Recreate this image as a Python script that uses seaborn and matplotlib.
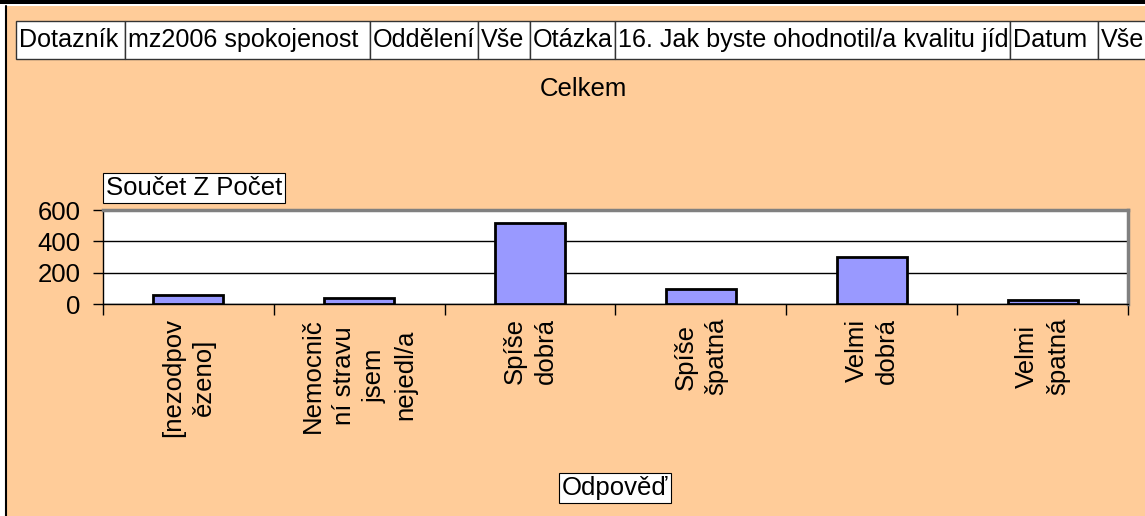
import matplotlib
matplotlib.use('Agg')
import matplotlib.pyplot as plt
import seaborn as sns
import pandas as pd
from matplotlib.patches import Rectangle
from matplotlib.lines import Line2D

answers = ['[nezodpov\nězeno]', 'Nemocnič\nní stravu\njsem\nnejedl/a', 'Spíše\ndobrá',
           'Spíše\nšpatná', 'Velmi\ndobrá', 'Velmi\nšpatná']
counts = [57, 38, 515, 97, 300, 25]
yticks = [0, 200, 400, 600]
header_labels = ['Dotazník', 'mz2006 spokojenost', 'Oddělení', 'Vše', 'Otázka',
                 '16. Jak byste ohodnotil/a kvalitu jíd', 'Datum', 'Vše']

# layout in pixels
W, H = 1145, 516
header_edges = [16, 125, 370, 478, 530, 615, 1010, 1098, 1150]

sns.set_theme(style='white')
plt.rcParams['font.family'] = ['Liberation Sans', 'DejaVu Sans']
plt.rcParams['text.color'] = 'black'
plt.rcParams['xtick.color'] = 'black'
plt.rcParams['ytick.color'] = 'black'
plt.rcParams['xtick.labelcolor'] = 'black'
plt.rcParams['ytick.labelcolor'] = 'black'

fig = plt.figure(figsize=(W / 100, H / 100), dpi=100, facecolor='white')


def fx(px):
    return px / W


def fy(py):
    return 1 - py / H


# peach chart area with black frame
fig.patches.append(Rectangle((fx(6), 0), 1 - fx(6), fy(6), transform=fig.transFigure,
                             facecolor='#FFCC99', edgecolor='none', zorder=-10))
fig.patches.append(Rectangle((0, fy(4)), 1, 4 / H, transform=fig.transFigure,
                             facecolor='black', edgecolor='none'))
fig.add_artist(Line2D([fx(6), fx(6)], [0, fy(6)], color='black', lw=1.5))

# header row of page fields
for i, lab in enumerate(header_labels):
    x0, x1 = header_edges[i], header_edges[i + 1]
    r = Rectangle((fx(x0), fy(59)), fx(x1) - fx(x0), (59 - 21) / H, transform=fig.transFigure,
                  facecolor='white', edgecolor='#333333', lw=1)
    fig.patches.append(r)
    fig.text(fx(x0 + 3), fy(40), lab, ha='left', va='center', fontsize=18.1, color='black')

fig.text(fx(583), fy(89), 'Celkem', ha='center', va='center', fontsize=18.5)

ax = fig.add_axes([fx(103), fy(304), fx(1128) - fx(103), (304 - 210) / H])
ax.set_facecolor('white')

df = pd.DataFrame({'Odpověď': answers, 'Počet': counts})
sns.barplot(data=df, x='Odpověď', y='Počet', color='#9999FF', saturation=1, width=0.41,
            edgecolor='black', linewidth=2, ax=ax, zorder=3)

ax.set_xlim(-0.5, 5.5)
ax.set_ylim(0, 600)
ax.set_yticks(yticks)
ax.yaxis.grid(True, color='black', lw=1)
ax.set_axisbelow(True)
ax.set_xlabel('')
ax.set_ylabel('')

for s in ['left', 'bottom']:
    ax.spines[s].set_color('black')
    ax.spines[s].set_linewidth(1)
for s in ['top', 'right']:
    ax.spines[s].set_color('#808080')
    ax.spines[s].set_linewidth(2.5)

ax.tick_params(axis='y', left=True, direction='out', length=7, width=1, color='black',
               labelsize=18.5, pad=9)
ax.set_xticks(range(len(answers)))
ax.set_xticklabels(answers, rotation=90, ha='center', va='top', multialignment='center',
                   linespacing=1.35, fontsize=18.5)
ax.set_xticks([i - 0.5 for i in range(len(answers) + 1)], minor=True)
ax.tick_params(axis='x', which='major', length=0, pad=10)
ax.tick_params(axis='x', which='minor', bottom=True, direction='out', length=8, width=1,
               color='black')

fig.text(fx(194), fy(188), 'Součet Z Počet', ha='center', va='center', fontsize=18.5,
         bbox=dict(boxstyle='square,pad=0.12', facecolor='white', edgecolor='black', lw=0.8))
fig.text(fx(615), fy(488), 'Odpověď', ha='center', va='center', fontsize=18.5,
         bbox=dict(boxstyle='square,pad=0.12', facecolor='white', edgecolor='black', lw=0.8))

fig.savefig('out.png', dpi=100, facecolor=fig.get_facecolor())
